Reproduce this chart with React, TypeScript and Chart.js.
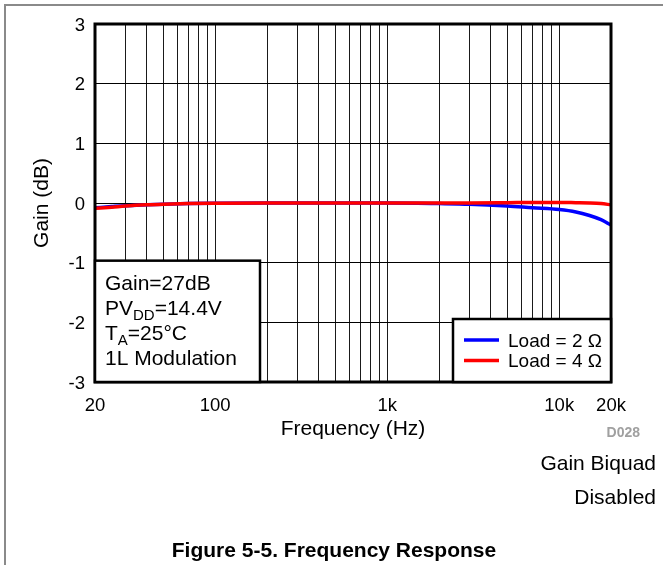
import { useEffect, useRef } from 'react';
import { Chart, registerables } from 'chart.js';

Chart.register(...registerables);

// Measured frequency response, gain in dB vs frequency in Hz
const frequencies = [20, 25, 30, 40, 50, 70, 100, 200, 500, 1000, 2000, 3000, 5000, 7000, 10000, 12500, 15000, 17500, 20000];
const gainLoad2 = [-0.08, -0.06, -0.045, -0.03, -0.02, -0.01, -0.005, 0, 0, 0, -0.01, -0.02, -0.05, -0.08, -0.11, -0.15, -0.21, -0.28, -0.37];
const gainLoad4 = [-0.09, -0.07, -0.05, -0.03, -0.02, -0.01, -0.005, 0, 0, 0, 0, 0, 0.005, 0.01, 0.01, 0.005, 0, -0.01, -0.03];

const seriesNames = ['Load = 2 \u03A9', 'Load = 4 \u03A9'];
const seriesColors = ['#0000ff', '#ff0000'];

const xGridValues = [20, 30, 40, 50, 60, 70, 80, 90, 100, 200, 300, 400, 500, 600, 700, 800, 900, 1000, 2000, 3000, 4000, 5000, 6000, 7000, 8000, 9000, 10000, 20000];
const xTickValues = [20, 100, 1000, 10000, 20000];
const xTickLabels = ['20', '100', '1k', '10k', '20k'];
const yTickValues = [-3, -2, -1, 0, 1, 2, 3];
const yTickLabels = ['-3', '-2', '-1', '0', '1', '2', '3'];

const xTitle = 'Frequency (Hz)';
const yTitle = 'Gain (dB)';

const FONT = '"Liberation Sans", Arial, sans-serif';
const W = 663;
const H = 565;

const overlayPlugin = {
  id: 'overlay',
  afterDraw(chart: any) {
    const { ctx, chartArea: a } = chart;
    const xs = chart.scales.x;
    const ys = chart.scales.y;
    ctx.save();

    // page rules
    ctx.strokeStyle = '#8a8a8a';
    ctx.lineWidth = 2;
    ctx.beginPath();
    ctx.moveTo(4, 5);
    ctx.lineTo(W, 5);
    ctx.moveTo(5, 4);
    ctx.lineTo(5, H);
    ctx.stroke();

    // plot frame
    ctx.strokeStyle = '#000';
    ctx.lineWidth = 3;
    ctx.strokeRect(a.left, a.top, a.right - a.left, a.bottom - a.top);

    // tick labels
    ctx.fillStyle = '#000';
    ctx.font = `18.5px ${FONT}`;
    ctx.textBaseline = 'alphabetic';
    ctx.textAlign = 'right';
    yTickValues.forEach((v, i) => {
      ctx.fillText(yTickLabels[i], a.left - 10, ys.getPixelForValue(v) + 6.6);
    });
    ctx.textAlign = 'center';
    xTickValues.forEach((v, i) => {
      ctx.fillText(xTickLabels[i], xs.getPixelForValue(v), a.bottom + 28.5);
    });

    // axis titles
    ctx.font = `21px ${FONT}`;
    ctx.fillText(xTitle, (a.left + a.right) / 2, a.bottom + 53);
    ctx.save();
    ctx.translate(48, (a.top + a.bottom) / 2);
    ctx.rotate(-Math.PI / 2);
    ctx.fillText(yTitle, 0, 0);
    ctx.restore();

    // conditions box
    const bx = a.left;
    const by = ys.getPixelForValue(-1) - 2;
    const bw = 165;
    ctx.fillStyle = '#fff';
    ctx.fillRect(bx, by, bw, a.bottom - by);
    ctx.strokeStyle = '#000';
    ctx.lineWidth = 2.5;
    ctx.strokeRect(bx, by, bw, a.bottom - by);
    ctx.fillStyle = '#000';
    ctx.textAlign = 'left';
    const tx = bx + 10;
    const drawRuns = (runs: [string, boolean][], y: number) => {
      let x = tx;
      runs.forEach(([t, sub]) => {
        ctx.font = sub ? `15px ${FONT}` : `21px ${FONT}`;
        ctx.fillText(t, x, sub ? y + 5 : y);
        x += ctx.measureText(t).width;
      });
    };
    drawRuns([['Gain=27dB', false]], by + 29.5);
    drawRuns([['PV', false], ['DD', true], ['=14.4V', false]], by + 54.5);
    drawRuns([['T', false], ['A', true], ['=25\u00B0C', false]], by + 79.5);
    drawRuns([['1L Modulation', false]], by + 104);

    // legend box
    const lx = 453;
    const ly = 319;
    const lr = a.right;
    ctx.fillStyle = '#fff';
    ctx.fillRect(lx, ly, lr - lx, a.bottom - ly);
    ctx.strokeStyle = '#000';
    ctx.lineWidth = 2.5;
    ctx.strokeRect(lx, ly, lr - lx, a.bottom - ly);
    ctx.font = `19px ${FONT}`;
    seriesNames.forEach((name, i) => {
      const cy = 340 + i * 20.5;
      ctx.strokeStyle = seriesColors[i];
      ctx.lineWidth = 3.5;
      ctx.beginPath();
      ctx.moveTo(464, cy);
      ctx.lineTo(499, cy);
      ctx.stroke();
      ctx.fillStyle = '#000';
      ctx.fillText(name, 508, cy + 6.8);
    });

    ctx.restore();
  },
};

export default function App() {
  const canvasRef = useRef<HTMLCanvasElement | null>(null);

  useEffect(() => {
    document.body.style.margin = '0';
    const canvas = canvasRef.current;
    if (!canvas) return;
    const toPoints = (ys: number[]) => frequencies.map((f, i) => ({ x: f, y: ys[i] }));
    const chart = new Chart(canvas, {
      type: 'line',
      data: {
        datasets: [
          {
            label: seriesNames[0],
            data: toPoints(gainLoad2),
            borderColor: seriesColors[0],
            borderWidth: 3.5,
            pointRadius: 0,
            cubicInterpolationMode: 'monotone',
            order: 1,
          },
          {
            label: seriesNames[1],
            data: toPoints(gainLoad4),
            borderColor: seriesColors[1],
            borderWidth: 3.5,
            pointRadius: 0,
            cubicInterpolationMode: 'monotone',
            order: 0,
          },
        ],
      },
      options: {
        responsive: false,
        animation: false,
        devicePixelRatio: 1,
        layout: { padding: { top: 24, right: W - 611, left: 0, bottom: 0 } },
        plugins: { legend: { display: false }, tooltip: { enabled: false } },
        scales: {
          x: {
            type: 'logarithmic',
            min: 20,
            max: 20000,
            afterBuildTicks: (s: any) => {
              s.ticks = xGridValues.map((v) => ({ value: v }));
            },
            afterFit: (s: any) => {
              s.height = H - 382;
            },
            ticks: { display: false },
            grid: { color: '#1a1a1a', lineWidth: 1, drawTicks: false },
            border: { display: false },
          },
          y: {
            type: 'linear',
            min: -3,
            max: 3,
            afterBuildTicks: (s: any) => {
              s.ticks = yTickValues.map((v) => ({ value: v }));
            },
            afterFit: (s: any) => {
              s.width = 95;
            },
            ticks: { display: false },
            grid: { color: '#000', lineWidth: 1, drawTicks: false },
            border: { display: false },
          },
        },
      },
      plugins: [overlayPlugin],
    } as any);
    return () => chart.destroy();
  }, []);

  const noteStyle: any = {
    position: 'absolute',
    right: 7,
    fontFamily: FONT,
    fontSize: 21,
    lineHeight: '21px',
    color: '#000',
    whiteSpace: 'nowrap',
  };

  return (
    <div style={{ position: 'relative', width: W, height: H, background: '#fff', overflow: 'hidden' }}>
      <canvas ref={canvasRef} width={W} height={H} style={{ position: 'absolute', left: 0, top: 0, width: W, height: H }} />
      <div style={{ ...noteStyle, right: 23, top: 425, fontSize: 14, lineHeight: '14px', color: '#a0a0a0', fontWeight: 'bold' }}>D028</div>
      <div style={{ ...noteStyle, top: 451.5 }}>Gain Biquad</div>
      <div style={{ ...noteStyle, top: 485.5 }}>Disabled</div>
      <div
        style={{
          position: 'absolute',
          left: 334,
          top: 538.5,
          transform: 'translateX(-50%)',
          fontFamily: FONT,
          fontSize: 21,
          lineHeight: '21px',
          fontWeight: 'bold',
          whiteSpace: 'nowrap',
        }}
      >
        Figure 5-5. Frequency Response
      </div>
    </div>
  );
}
